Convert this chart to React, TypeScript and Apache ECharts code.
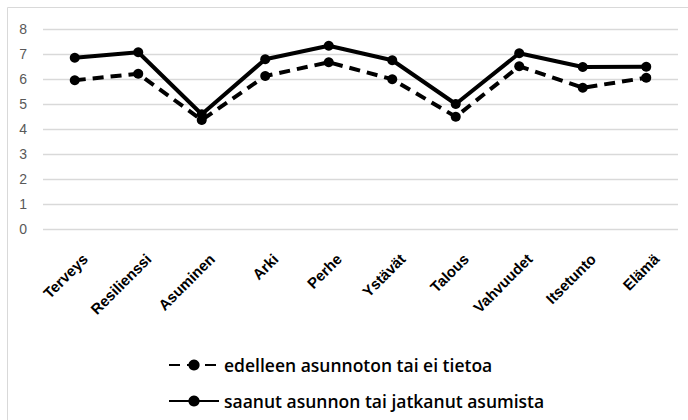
import React, { useEffect, useRef } from "react";
import * as echarts from "echarts";

const categories = ["Terveys", "Resilienssi", "Asuminen", "Arki", "Perhe", "Ystävät", "Talous", "Vahvuudet", "Itsetunto", "Elämä"];
const seriesNames = ["edelleen asunnoton tai ei tietoa", "saanut asunnon tai jatkanut asumista"];
const dashedValues = [5.95, 6.21, 4.36, 6.12, 6.67, 5.99, 4.49, 6.51, 5.65, 6.05];
const solidValues = [6.85, 7.07, 4.59, 6.79, 7.33, 6.75, 5.0, 7.03, 6.48, 6.49];
const yMin = 0;
const yMax = 8;
const yInterval = 1;

export default function App() {
  const ref = useRef<HTMLDivElement>(null);
  useEffect(() => {
    if (!ref.current) return;
    const chart = echarts.init(ref.current, null, { renderer: "svg" });
    chart.setOption({
      animation: false,
      backgroundColor: "#ffffff",
      textStyle: { fontFamily: "Liberation Sans" },
      graphic: [
        {
          id: "frame",
          type: "rect",
          shape: { x: 7.5, y: 7.5, width: 700, height: 430 },
          style: { fill: "none", stroke: "#d9d9d9", lineWidth: 1 },
          silent: true,
        },
      ],
      grid: { left: 43, right: 10, top: 29, bottom: 191 },
      legend: {
        orient: "vertical",
        left: 163,
        top: 351,
        itemWidth: 50,
        itemHeight: 14,
        itemGap: 18,
        textStyle: { color: "#000000", fontSize: 17.5, fontWeight: 600, fontFamily: "Open Sans" },
        data: seriesNames,
      },
      xAxis: {
        type: "category",
        data: categories,
        boundaryGap: true,
        axisLine: { show: false },
        axisTick: { show: false },
        axisLabel: { show: false },
      },
      yAxis: {
        type: "value",
        min: yMin,
        max: yMax,
        interval: yInterval,
        axisLine: { show: false },
        axisTick: { show: false },
        axisLabel: { color: "#595959", fontSize: 14, margin: 16, fontFamily: "Liberation Sans" },
        splitLine: { lineStyle: { color: "#d9d9d9", width: 1.3 } },
      },
      series: [
        {
          name: seriesNames[0],
          type: "line",
          data: dashedValues,
          symbol: "circle",
          symbolSize: 10,
          itemStyle: { color: "#000000" },
          lineStyle: { color: "#000000", width: 4, type: [11, 7] },
        },
        {
          name: seriesNames[1],
          type: "line",
          data: solidValues,
          symbol: "circle",
          symbolSize: 10,
          itemStyle: { color: "#000000" },
          lineStyle: { color: "#000000", width: 4, type: "solid" },
        },
      ],
    });
    // category labels, positioned from the category axis scale, rotated 45°
    const labels = categories.map((name, i) => {
      const p = chart.convertToPixel({ xAxisIndex: 0, yAxisIndex: 0 }, [i, yMin]) as number[];
      return {
        id: "lbl" + i,
        type: "text",
        x: p[0] + 5,
        y: p[1] + 22,
        rotation: Math.PI / 4,
        silent: true,
        style: {
          text: name,
          fill: "#000000",
          font: "bold 15px 'Liberation Sans'",
          align: "right",
          verticalAlign: "top",
        },
      };
    });
    chart.setOption({ graphic: labels });
    return () => chart.dispose();
  }, []);
  return <div ref={ref} style={{ width: 688, height: 420, position: "fixed", left: 0, top: 0 }} />;
}
